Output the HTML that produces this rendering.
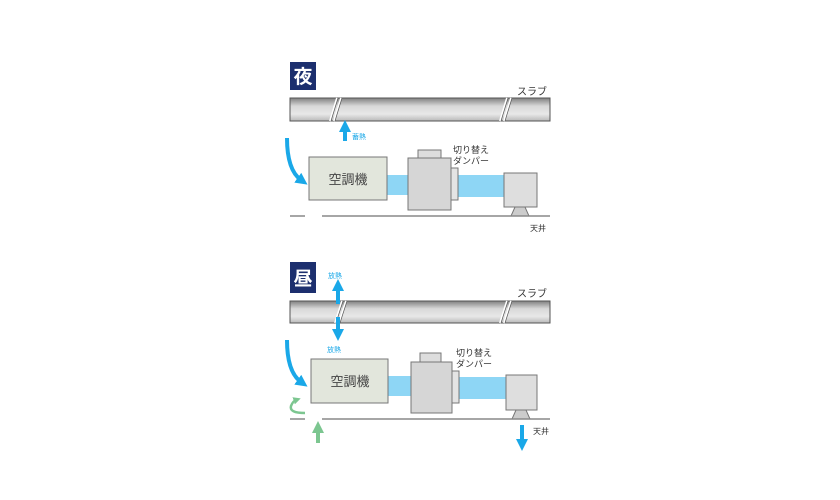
<!DOCTYPE html>
<html><head><meta charset="utf-8"><style>html,body{margin:0;padding:0;background:#fff}svg{display:block}text{font-family:"Liberation Sans","Noto Sans CJK JP",sans-serif}</style></head><body>
<svg width="840" height="500" viewBox="0 0 840 500">
<defs>
<linearGradient id="slab" x1="0" y1="0" x2="0" y2="1"><stop offset="0" stop-color="#808080"/><stop offset="0.35" stop-color="#d8d8d8"/><stop offset="0.7" stop-color="#e8e8e8"/><stop offset="1" stop-color="#b8b8b8"/></linearGradient>
<marker id="ab" markerWidth="3" markerHeight="3" refX="1" refY="1.5" orient="auto" markerUnits="strokeWidth"><path d="M0,0 L3,1.5 L0,3z" fill="#1aa8e8"/></marker>
<marker id="ag" markerWidth="3" markerHeight="3" refX="1" refY="1.5" orient="auto" markerUnits="strokeWidth"><path d="M0,0 L3,1.5 L0,3z" fill="#7cc690"/></marker>
</defs>

<!-- NIGHT -->
<rect x="290" y="62" width="26" height="28" fill="#1c2f6e"/>
<text x="303" y="83" font-size="19" fill="#fff" text-anchor="middle" font-weight="bold">夜</text>
<text x="517" y="95" font-size="10" fill="#333">スラブ</text>
<rect x="290" y="98" width="260" height="23" fill="url(#slab)" stroke="#555" stroke-width="1"/>
<path d="M330,121 L337,98 M334,121 L341,98 M500,121 L507,98 M504,121 L511,98" stroke="#fff" stroke-width="2"/>
<path d="M331,121 L338,98 M335,121 L342,98 M501,121 L508,98 M505,121 L512,98" stroke="#555" stroke-width="0.7"/>
<line x1="345" y1="141" x2="345" y2="128" stroke="#1aa8e8" stroke-width="4" marker-end="url(#ab)"/>
<text x="352" y="139" font-size="7" fill="#1aa8e8">蓄熱</text>
<path d="M287,138 Q287,170 301,180" fill="none" stroke="#1aa8e8" stroke-width="4" marker-end="url(#ab)"/>
<rect x="387" y="175" width="24" height="20" fill="#8ed6f5"/>
<rect x="458" y="175" width="48" height="22" fill="#8ed6f5"/>
<rect x="309" y="157" width="78" height="43" fill="#e2e6dc" stroke="#777"/>
<text x="348" y="184" font-size="13" fill="#444" text-anchor="middle">空調機</text>
<rect x="418" y="150" width="23" height="9" fill="#ddd" stroke="#777"/>
<rect x="408" y="158" width="43" height="52" fill="#d6d6d6" stroke="#777"/>
<rect x="451" y="168" width="7" height="32" fill="#e4e4e4" stroke="#777"/>
<rect x="504" y="173" width="33" height="34" fill="#dedede" stroke="#777"/>
<path d="M515,207 L525,207 L529,216 L511,216z" fill="#ccc" stroke="#777"/>
<text x="453" y="153" font-size="9" fill="#333">切り替え</text>
<text x="453" y="164" font-size="9" fill="#333">ダンパー</text>
<path d="M290,216 H305 M322,216 H550" stroke="#888" stroke-width="1.5"/>
<text x="530" y="231" font-size="8" fill="#333">天井</text>

<!-- DAY -->
<rect x="290" y="262" width="26" height="31" fill="#1c2f6e"/>
<text x="303" y="285" font-size="19" fill="#fff" text-anchor="middle" font-weight="bold">昼</text>
<text x="328" y="278" font-size="7" fill="#1aa8e8">放熱</text>
<text x="517" y="297" font-size="10" fill="#333">スラブ</text>
<rect x="290" y="301" width="260" height="22" fill="url(#slab)" stroke="#555" stroke-width="1"/>
<path d="M335,323 L342,301 M339,323 L346,301 M500,323 L507,301 M504,323 L511,301" stroke="#fff" stroke-width="2"/>
<path d="M336,323 L343,301 M340,323 L347,301 M501,323 L508,301 M505,323 L512,301" stroke="#555" stroke-width="0.7"/>
<line x1="338" y1="304" x2="338" y2="287" stroke="#1aa8e8" stroke-width="4" marker-end="url(#ab)"/>
<line x1="338" y1="317" x2="338" y2="333" stroke="#1aa8e8" stroke-width="4" marker-end="url(#ab)"/>
<text x="327" y="352" font-size="7" fill="#1aa8e8">放熱</text>
<path d="M287,340 Q287,372 301,382" fill="none" stroke="#1aa8e8" stroke-width="4" marker-end="url(#ab)"/>
<path d="M305,413 Q289,413 291,406 Q293,401 296,400" fill="none" stroke="#7cc690" stroke-width="2.5" marker-end="url(#ag)"/>
<line x1="318" y1="443" x2="318" y2="429" stroke="#7cc690" stroke-width="4" marker-end="url(#ag)"/>
<rect x="388" y="376" width="24" height="20" fill="#8ed6f5"/>
<rect x="459" y="377" width="48" height="22" fill="#8ed6f5"/>
<rect x="311" y="359" width="77" height="44" fill="#e2e6dc" stroke="#777"/>
<text x="350" y="386" font-size="13" fill="#444" text-anchor="middle">空調機</text>
<rect x="420" y="353" width="21" height="9" fill="#ddd" stroke="#777"/>
<rect x="411" y="362" width="41" height="51" fill="#d6d6d6" stroke="#777"/>
<rect x="452" y="371" width="7" height="32" fill="#e4e4e4" stroke="#777"/>
<rect x="506" y="375" width="31" height="35" fill="#dedede" stroke="#777"/>
<path d="M516,410 L526,410 L530,419 L512,419z" fill="#ccc" stroke="#777"/>
<text x="456" y="356" font-size="9" fill="#333">切り替え</text>
<text x="456" y="367" font-size="9" fill="#333">ダンパー</text>
<path d="M290,419 H305 M322,419 H550" stroke="#888" stroke-width="1.5"/>
<line x1="522" y1="425" x2="522" y2="443" stroke="#1aa8e8" stroke-width="4" marker-end="url(#ab)"/>
<text x="533" y="434" font-size="8" fill="#333">天井</text>
</svg>
</body></html>
